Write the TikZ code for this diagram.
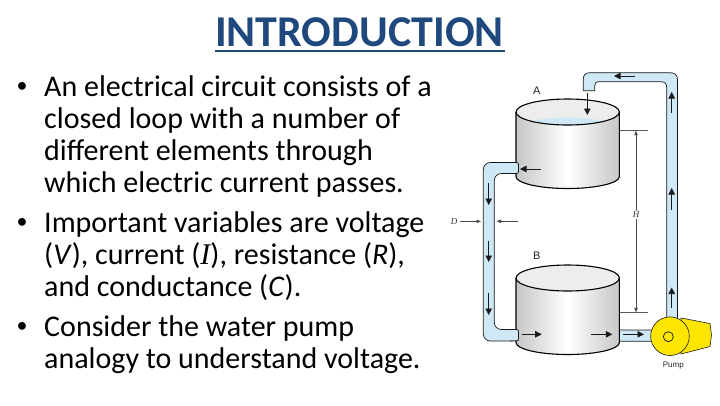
\documentclass[tikz,border=0pt]{standalone}
\usepackage{fontspec}
\setmainfont{Carlito}
\newfontfamily\lblfont{Liberation Sans}
\newfontfamily\serfont{Liberation Serif}
\usetikzlibrary{arrows.meta}
\definecolor{titleblue}{HTML}{1F497D}
\definecolor{pipeblue}{HTML}{CFE8F6}
\definecolor{pumpyellow}{HTML}{FFE600}
\definecolor{inkdark}{HTML}{1A1A1A}
\tikzset{
  bodytext/.style={anchor=base west,inner sep=0pt,font=\fontsize{30}{32}\selectfont,text=black},
  bulletmark/.style={anchor=base,inner sep=0pt,font=\fontsize{22}{24}\selectfont},
  pipe/.style={fill=pipeblue,draw=inkdark,line width=.7pt,rounded corners=7pt,line join=round},
  tankbody/.style={left color=black!22,right color=black!22,middle color=white,draw=none},
  tankline/.style={draw=black,line width=1.1pt},
  flow/.style={draw=inkdark,line width=.7pt,-{Triangle[length=6.5pt,width=6.5pt]}},
  dimline/.style={draw=black!70,line width=.5pt,-{Triangle[length=4.5pt,width=3.5pt]}},
  dimtick/.style={draw=black!65,line width=.5pt},
  figlabel/.style={inner sep=0pt,font=\lblfont\fontsize{11}{11}\selectfont,text=black!85},
  dimlabel/.style={inner sep=1pt,font=\serfont\itshape\fontsize{9}{9}\selectfont,text=black!80},
}
\newcommand{\tank}[1]{%
  \path[tankbody] (516,#1) -- (516,#1+64.5) arc[start angle=180,end angle=0,x radius=51.7,y radius=12] -- (619.4,#1) arc[start angle=0,end angle=-180,x radius=51.7,y radius=13] -- cycle;
  \fill[black!7] (567.7,#1) ellipse[x radius=51.7,y radius=13];
}
\newcommand{\tankedge}[1]{%
  \draw[tankline] (516,#1) -- (516,#1+64.5) arc[start angle=180,end angle=0,x radius=51.7,y radius=12] -- (619.4,#1);
  \draw[tankline] (567.7,#1) ellipse[x radius=51.7,y radius=13];
}
\begin{document}
\begin{tikzpicture}[x=1pt,y=-1pt]
\useasboundingbox (0,0) rectangle (720,405);
\fill[white] (0,0) rectangle (720,405);

% title
\node[anchor=base,inner sep=0pt,font=\bfseries\fontsize{44}{46}\selectfont,text=titleblue] (title) at (359.5,46.5) {INTRODUCTION};
\draw[titleblue,line width=2.4pt] (215,51) -- (505,51);

% bullets
\node[bulletmark] (b1) at (22,92) {•};
\node[bodytext] (l1) at (44,96) {An electrical circuit consists of a};
\node[bodytext] (l2) at (44,128) {closed loop with a number of};
\node[bodytext] (l3) at (44,160) {different elements through};
\node[bodytext] (l4) at (44,192) {which electric current passes.};
\node[bulletmark] (b2) at (22,228) {•};
\node[bodytext] (l5) at (44,232) {Important variables are voltage};
\node[bodytext] (l6) at (44,264) {(\textit{V}), current ({\serfont\itshape I}), resistance (\textit{R}),};
\node[bodytext] (l7) at (44,296) {and conductance (\textit{C}).};
\node[bulletmark] (b3) at (22,332) {•};
\node[bodytext] (l8) at (44,336) {Consider the water pump};
\node[bodytext] (l9) at (44,368) {analogy to understand voltage.};

% pipes
\draw[pipe] (518.5,162.5) -- (483.3,162.5) -- (483.3,341) -- (518.5,341) -- (518.5,329.5) -- (494.3,329.5) -- (494.3,173.5) -- (518.5,173.5) -- cycle;
\draw[pipe,sharp corners] (666.7,322) -- (666.7,88) .. controls (666.7,83.5) and (665,81.7) .. (660.7,81.7) -- (599.5,81.7) .. controls (596,81.7) and (594.7,83) .. (594.7,86) -- (594.7,90.7) -- (583.3,90.7) -- (583.3,79) .. controls (583.3,75) and (585.5,72.7) .. (590,72.7) -- (670,72.7) .. controls (675,72.7) and (677.5,75) .. (677.5,80) -- (677.5,322) -- cycle;
\draw[pipe,rounded corners=2pt] (616,330) -- (654,330) -- (654,341.2) -- (616,341.2) -- cycle;

% tanks
\tank{112}
\fill[pipeblue] (567.7,121.5) ellipse[x radius=33,y radius=3.8];
\tankedge{112}
\tank{278}
\tankedge{278}
\fill[pipeblue,rounded corners=2pt] (510,163) rectangle (518.2,173);
\fill[pipeblue,rounded corners=2pt] (510,330) rectangle (518.2,340.5);
\draw[draw=inkdark,line width=.8pt,rounded corners=2pt] (510,162.5) -- (518.5,162.5) -- (518.5,173.5) -- (510,173.5);
\draw[draw=inkdark,line width=.8pt,rounded corners=2pt] (510,329.5) -- (518.5,329.5) -- (518.5,341) -- (510,341);

% pump
\draw[fill=pumpyellow,draw=inkdark,line width=.6pt,line join=round] (681,318) -- (710,323.5) -- (711.5,335) -- (710,346.5) -- (681,354) -- cycle;
\draw[fill=pumpyellow,draw=inkdark,line width=.6pt] (670,336.2) circle[radius=19.3];
\draw[fill=pumpyellow,draw=inkdark,line width=.7pt] (668.3,336.7) circle[radius=5];

% flow arrows
\draw[flow] (635,76) -- (614,76);
\draw[flow] (587.3,93) -- (587.3,115);
\draw[flow] (671.7,113) -- (671.7,92);
\draw[flow] (671.7,210) -- (671.7,188);
\draw[flow] (671.7,308) -- (671.7,287.5);
\draw[flow] (541,169) -- (520,169);
\draw[flow] (488.7,183) -- (488.7,205);
\draw[flow] (488.7,241) -- (488.7,262);
\draw[flow] (488.7,293) -- (488.7,315);
\draw[flow] (521.7,334.3) -- (541.7,334.3);
\draw[flow] (590.7,334.3) -- (612.3,334.3);
\draw[flow] (623.3,334.3) -- (644,334.3);

% dimensions
\node[dimlabel] (D) at (454,221.3) {D};
\coordinate (dl) at (460,221.3);
\coordinate (dle) at (481,221.3);
\coordinate (dr) at (518.3,221.3);
\coordinate (dre) at (496.5,221.3);
\draw[dimline] (dl) -- (dle);
\draw[dimline] (dr) -- (dre);
\node[dimlabel] (H) at (636,215) {H};
\coordinate (ht) at (636,130.7);
\coordinate (hb) at (636,312.3);
\draw[dimtick] (620,130.7) -- (647.5,130.7);
\draw[dimtick] (620,312.3) -- (647.5,312.3);
\draw[dimline] (H.north) -- (ht);
\draw[dimline] (H.south) -- (hb);

% labels
\node[figlabel] (A) at (536.7,90.5) {A};
\node[figlabel] (B) at (536.7,255.5) {B};
\node[figlabel,font=\lblfont\fontsize{8}{8}\selectfont] (pumplabel) at (673.3,365.5) {Pump};
\end{tikzpicture}
\end{document}
